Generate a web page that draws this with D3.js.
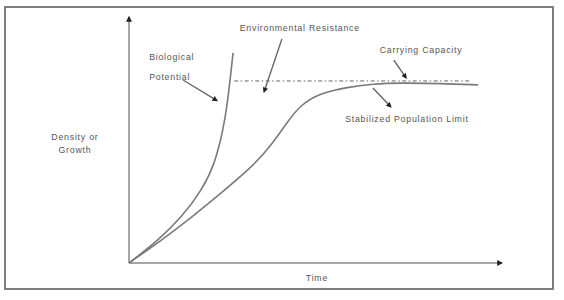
<!DOCTYPE html>
<html>
<head>
<meta charset="utf-8">
<script src="https://cdn.jsdelivr.net/npm/d3@7"></script>
<style>
  html, body { margin: 0; padding: 0; background: #fff; }
  text { font-family: "Liberation Sans", Arial, sans-serif; font-size: 8.8px; fill: #555; letter-spacing: 0.75px; }
</style>
</head>
<body>
<div id="chart"></div>
<script>
// curves, in % of the axes
var biological = [
    [0, 0], [3.5, 4.1], [7.8, 9.3], [14.2, 18.7], [19.6, 29.7],
    [23.1, 40.7], [25.2, 54.1], [26.3, 63.4], [27.9, 85.4]
];
var logistic = [
    [0, 0], [8.8, 9.3], [16.9, 18.7], [25.7, 29.7], [33.8, 40.2],
    [38.6, 48.8], [42.4, 57.2], [45.8, 64], [51.2, 69.1], [59.2, 71.6],
    [65.4, 72.8], [72.7, 73.2], [83.4, 73], [93.6, 72.4]
];
var capacity = [[28.2, 74], [91.7, 74]];

// pointer lines: [from, to]
var pointers = [
    [[41, 91.1], [36.2, 69.5]],
    [[14.5, 74.4], [23.6, 66]],
    [[71, 82.5], [74.3, 75.2]],
    [[65.4, 71.1], [70.2, 63.4]]
];

var labels = [
    { text: 'Environmental Resistance', x: 45.8, y: 94.3, anchor: 'middle' },
    { text: 'Biological', x: 5.4, y: 82.5, anchor: 'start' },
    { text: 'Potential', x: 5.4, y: 74.4, anchor: 'start' },
    { text: 'Carrying Capacity', x: 78.3, y: 85.4, anchor: 'middle' },
    { text: 'Stabilized Population Limit', x: 74.5, y: 57.3, anchor: 'middle' },
    { text: 'Density or', x: -14.5, y: 50, anchor: 'middle' },
    { text: 'Growth', x: -14.5, y: 44.7, anchor: 'middle' },
    { text: 'Time', x: 50.4, y: -7.3, anchor: 'middle' }
];

var width = 564, height = 300;

var svg = d3.select('#chart').append('svg')
    .attr('width', width)
    .attr('height', height);

var defs = svg.append('defs');
defs.append('marker')
    .attr('id', 'head')
    .attr('viewBox', '0 -5 10 10')
    .attr('refX', 8)
    .attr('markerWidth', 4)
    .attr('markerHeight', 4)
    .attr('orient', 'auto')
    .append('path')
        .attr('d', 'M0,-5L10,0L0,5Z')
        .attr('fill', '#222');

var x = d3.scaleLinear().domain([0, 100]).range([129, 502]);
var y = d3.scaleLinear().domain([0, 100]).range([263, 17]);

// frame
svg.append('rect')
    .attr('x', 5).attr('y', 7)
    .attr('width', 548).attr('height', 282)
    .attr('fill', 'none')
    .attr('stroke', '#7d7d7d')
    .attr('stroke-width', 2);

// axes
svg.append('line')
    .attr('x1', x(0)).attr('y1', y(0))
    .attr('x2', x(0)).attr('y2', y(100))
    .attr('stroke', '#888').attr('stroke-width', 1.5)
    .attr('marker-end', 'url(#head)');
svg.append('line')
    .attr('x1', x(0)).attr('y1', y(0))
    .attr('x2', x(100)).attr('y2', y(0))
    .attr('stroke', '#888').attr('stroke-width', 1.5)
    .attr('marker-end', 'url(#head)');

var line = d3.line()
    .x(function (d) { return x(d[0]); })
    .y(function (d) { return y(d[1]); })
    .curve(d3.curveBasis);

svg.append('path')
    .attr('d', line(capacity))
    .attr('fill', 'none')
    .attr('stroke', '#666')
    .attr('stroke-width', 1)
    .attr('stroke-dasharray', '4,2.5,1.5,2.5');

[biological, logistic].forEach(function (c) {
    svg.append('path')
        .attr('d', line(c))
        .attr('fill', 'none')
        .attr('stroke', '#7a7a7a')
        .attr('stroke-width', 1.6);
});

svg.selectAll('.pointer').data(pointers).enter()
    .append('line')
        .attr('class', 'pointer')
        .attr('x1', function (d) { return x(d[0][0]); })
        .attr('y1', function (d) { return y(d[0][1]); })
        .attr('x2', function (d) { return x(d[1][0]); })
        .attr('y2', function (d) { return y(d[1][1]); })
        .attr('stroke', '#666')
        .attr('stroke-width', 1.4)
        .attr('marker-end', 'url(#head)');

svg.selectAll('.label').data(labels).enter()
    .append('text')
        .attr('class', 'label')
        .attr('x', function (d) { return x(d.x); })
        .attr('y', function (d) { return y(d.y); })
        .attr('text-anchor', function (d) { return d.anchor; })
        .text(function (d) { return d.text; });
</script>
</body>
</html>
